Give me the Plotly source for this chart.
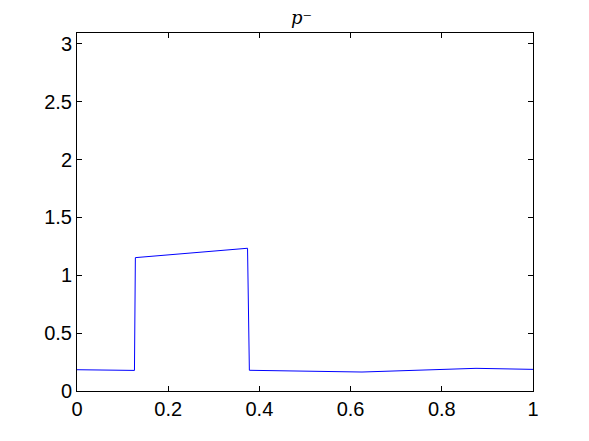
import plotly.graph_objects as go

# nodal values
x_vals = [0.0, 0.126, 0.128, 0.374, 0.378, 0.625, 0.875, 1.0]
p_minus = [0.184, 0.178, 1.153, 1.234, 0.179, 0.164, 0.196, 0.187]

x_ticks = [0, 0.2, 0.4, 0.6, 0.8, 1]
x_ticklabels = ["0", "0.2", "0.4", "0.6", "0.8", "1"]
y_ticks = [0, 0.5, 1, 1.5, 2, 2.5, 3]
y_ticklabels = ["0", "0.5", "1", "1.5", "2", "2.5", "3"]

fig = go.Figure()
fig.add_trace(go.Scatter(
    x=x_vals, y=p_minus, mode="lines",
    line=dict(color="#0000ff", width=1),
    showlegend=False,
))

axis_style = dict(
    showgrid=False, zeroline=False, showline=True, mirror="ticks",
    linecolor="black", linewidth=1, ticks="inside", ticklen=5,
    tickcolor="black", automargin=False,
    tickfont=dict(family="Liberation Sans, Arial", size=20, color="black"),
)

# page body has an 8px margin, so the figure is shrunk to fit the window
fig.update_layout(
    width=581, height=433,
    margin=dict(l=69, r=56, t=25, b=50),
    paper_bgcolor="white", plot_bgcolor="white",
    title=dict(text="<i>p</i>⁻", x=0.505, xanchor="center", y=0.978, yanchor="middle",
               font=dict(family="DejaVu Serif, serif", size=18, color="black")),
    xaxis=dict(range=[0, 1], tickvals=x_ticks, ticktext=x_ticklabels, **axis_style),
    yaxis=dict(range=[0, 3.095], tickvals=y_ticks, ticktext=y_ticklabels, **axis_style),
)

fig.write_html("out.html")
